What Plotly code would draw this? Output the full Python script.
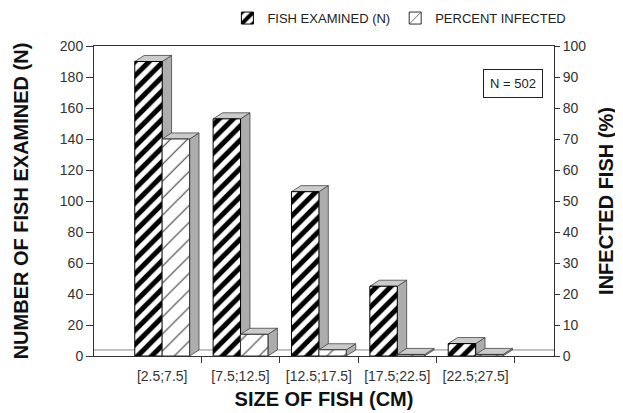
"""Fish examined vs percent infected, by size class (pseudo-3D bars)."""

import plotly.graph_objects as go

SIZE_CLASSES = ["[2.5;7.5]", "[7.5;12.5]", "[12.5;17.5]", "[17.5;22.5]", "[22.5;27.5]"]
FISH_EXAMINED = [190, 153, 106, 45, 8]
PCT_INFECTED = [70, 7, 2, 0.5, 0.5]
N_TOTAL = 502

FONT = "Liberation Sans, Arial, sans-serif"
BAR_W = 0.35          # width of each bar (category units)
DX = 0.12             # 3D depth, x units
DY1 = 3.9             # 3D depth on left axis units
DY2 = 1.95            # 3D depth on right axis units
SIDE = "#adadad"
TOP = "#cbcbcb"
EDGE = "#444444"

xs = list(range(len(SIZE_CLASSES)))

fig = go.Figure()
fig.add_trace(go.Bar(
    x=xs, y=FISH_EXAMINED, width=BAR_W, offset=-BAR_W,
    name="FISH EXAMINED (N)",
    marker=dict(
        color="white",
        line=dict(color="black", width=1),
        pattern=dict(shape="/", size=10, solidity=0.5, fgcolor="black",
                     bgcolor="white", fgopacity=1),
    ),
    yaxis="y",
))
fig.add_trace(go.Bar(
    x=xs, y=PCT_INFECTED, width=BAR_W, offset=0,
    name="PERCENT INFECTED",
    marker=dict(
        color="white",
        line=dict(color="#333333", width=1),
        pattern=dict(shape="/", size=12, solidity=0.1, fgcolor="#444444",
                     bgcolor="white", fgopacity=1),
    ),
    yaxis="y2",
))


def add_depth(x_left, value, yref, dy):
    # side face + top face of one bar, drawn behind the bars
    x_right = x_left + BAR_W
    side = (f"M{x_right},0 L{x_right + DX},{dy} L{x_right + DX},{value + dy} "
            f"L{x_right},{value} Z")
    top = (f"M{x_left},{value} L{x_left + DX},{value + dy} L{x_right + DX},{value + dy} "
           f"L{x_right},{value} Z")
    for path, col in [(side, SIDE), (top, TOP)]:
        fig.add_shape(type="path", path=path, xref="x", yref=yref,
                      fillcolor=col, line=dict(color=EDGE, width=0.8), layer="below")


for i, (n, p) in enumerate(zip(FISH_EXAMINED, PCT_INFECTED)):
    add_depth(i - BAR_W, n, "y", DY1)
    add_depth(i, p, "y2", DY2)

# floor strip
fig.add_shape(type="line", xref="paper", yref="y", x0=0, x1=1, y0=DY1, y1=DY1,
              line=dict(color="#666666", width=0.8), layer="below")

fig.add_annotation(
    x=0.91, y=0.88, xref="paper", yref="paper", xanchor="center", yanchor="middle",
    text=f"N = {N_TOTAL}", showarrow=False,
    font=dict(family=FONT, size=13, color="#222222"),
    bordercolor="#222222", borderwidth=1, borderpad=6, bgcolor="white",
)

TITLE_FONT = dict(family=FONT, size=20, color="#111111")
TICK_FONT = dict(family=FONT, size=14, color="#333333")

fig.update_layout(
    width=623, height=413,
    margin=dict(l=86, r=77, t=38, b=65, autoexpand=False),
    paper_bgcolor="white", plot_bgcolor="white",
    font=dict(family=FONT, size=13, color="#333333"),
    showlegend=True,
    legend=dict(
        orientation="h", x=0.29, xanchor="left", y=1.09, yanchor="middle",
        font=dict(family=FONT, size=13, color="#222222"),
        tracegroupgap=0,
    ),
    barmode="overlay",
    xaxis=dict(
        range=[-0.87, 5.0], tickvals=xs, ticktext=SIZE_CLASSES,
        ticks="", showgrid=False, zeroline=False, automargin=False,
        showline=True, linecolor="#333333", linewidth=1, mirror=True,
        ticklabelstandoff=7,
        minor=dict(tickvals=[0.5, 1.5, 2.5, 3.5, 4.5], ticks="outside",
                   ticklen=6, tickcolor="#333333", showgrid=False),
        tickfont=TICK_FONT,
        title=dict(text="<b>SIZE OF FISH (CM)</b>", standoff=9, font=TITLE_FONT),
    ),
    yaxis=dict(
        range=[0, 200], dtick=20, ticks="outside", ticklen=7, tickcolor="#333333",
        showgrid=False, zeroline=False, automargin=False,
        showline=True, linecolor="#333333", linewidth=1,
        tickfont=TICK_FONT,
        title=dict(text="<b>NUMBER OF FISH EXAMINED (N)</b>", standoff=25, font=TITLE_FONT),
    ),
    yaxis2=dict(
        range=[0, 100], dtick=10, overlaying="y", side="right",
        ticks="outside", ticklen=5, tickcolor="#333333",
        showgrid=False, zeroline=False, automargin=False,
        showline=True, linecolor="#333333", linewidth=1,
        tickfont=TICK_FONT,
        title=dict(text="<b>INFECTED FISH (%)</b>", standoff=13, font=TITLE_FONT),
    ),
)

fig.write_html("out.html")
